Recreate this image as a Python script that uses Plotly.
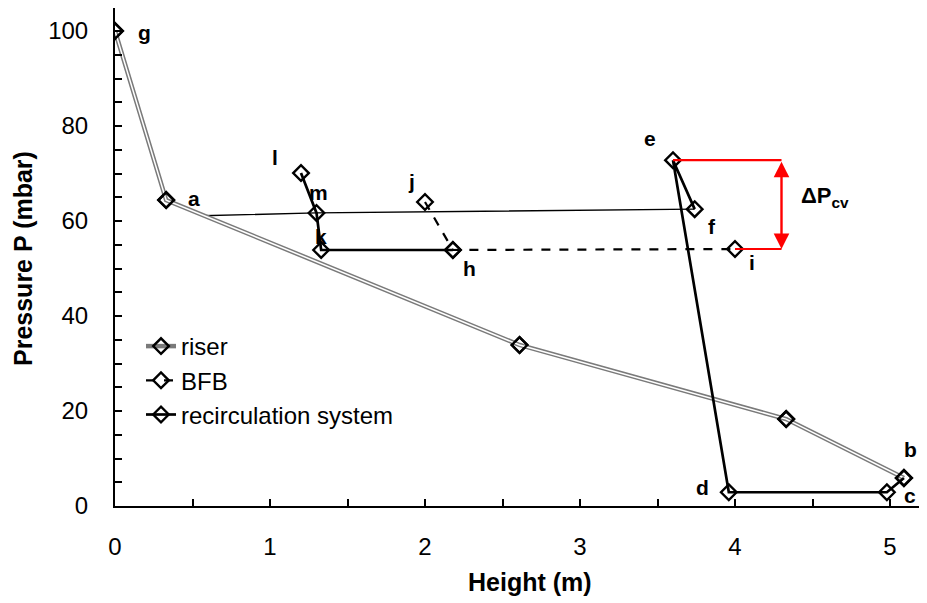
import plotly.graph_objects as go

FONT = "Arial, Liberation Sans, sans-serif"

# Riser: g, a, intermediate points, b
riser_x = [0.0, 0.33, 2.61, 4.33, 5.09]
riser_y = [100.0, 64.4, 33.9, 18.3, 5.9]

# BFB: j -> h -> i
bfb_x = [2.0, 2.18, 4.0]
bfb_y = [64.0, 53.9, 54.1]

# Recirculation system: b -> c -> d -> e -> f  and  l -> m -> k -> h
rec1_x = [5.09, 4.98, 3.96, 3.60, 3.74]
rec1_y = [5.9, 2.9, 2.9, 72.8, 62.5]
rec2_x = [1.20, 1.30, 1.33, 2.18]
rec2_y = [70.1, 61.7, 53.9, 53.9]

# Thin connecting line (riser -> m -> f)
conn_x = [0.56, 1.30, 3.74]
conn_y = [61.1, 61.7, 62.5]

# Point labels
lab_text = ["g", "a", "l", "m", "k", "j", "h", "e", "f", "i", "b", "c", "d"]
lab_x = [0.19, 0.51, 1.03, 1.31, 1.33, 1.91, 2.29, 3.45, 3.85, 4.11, 5.13, 5.13, 3.79]
lab_y = [99.6, 64.8, 73.3, 66.1, 56.8, 68.4, 50.1, 77.3, 58.9, 51.2, 12.0, 2.3, 4.0]

dp_arrow_x = 4.3

W, H = 927, 603
OFF = 8  # page body margin
ML, MR, MT, MB = 115 - OFF, 0, 0, 603 + OFF - 506
PW = W - ML - MR
PH = H - MT - MB
XPX = 155.0
YPX = 4.75

MK = dict(symbol="diamond-open", size=12, color="black", line=dict(width=2.4, color="black"))

fig = go.Figure()

fig.add_trace(go.Scatter(x=conn_x, y=conn_y, mode="lines",
                         line=dict(color="black", width=1.3), showlegend=False))

fig.add_trace(go.Scatter(x=riser_x, y=riser_y, mode="lines+markers", name="riser",
                         line=dict(color="#7a7a7a", width=4.5), marker=MK,
                         legendgroup="riser", showlegend=True))
fig.add_trace(go.Scatter(x=riser_x, y=riser_y, mode="lines+markers",
                         line=dict(color="white", width=1.5), marker=MK,
                         legendgroup="riser", showlegend=False))

fig.add_trace(go.Scatter(x=bfb_x, y=bfb_y, mode="lines+markers", name="BFB",
                         line=dict(color="black", width=2.2, dash="dash"), marker=MK))

fig.add_trace(go.Scatter(x=rec1_x, y=rec1_y, mode="lines+markers", name="recirculation system",
                         line=dict(color="black", width=2.7), marker=MK, legendgroup="rec"))
fig.add_trace(go.Scatter(x=rec2_x, y=rec2_y, mode="lines+markers",
                         line=dict(color="black", width=2.7), marker=MK,
                         legendgroup="rec", showlegend=False))

fig.add_trace(go.Scatter(x=[rec1_x[3], dp_arrow_x], y=[rec1_y[3], rec1_y[3]], mode="lines",
                         line=dict(color="red", width=2.2), showlegend=False))
fig.add_trace(go.Scatter(x=[bfb_x[2], dp_arrow_x], y=[bfb_y[2], bfb_y[2]], mode="lines",
                         line=dict(color="red", width=2.2), showlegend=False))

annotations = []
annotations.append(dict(x=dp_arrow_x, y=bfb_y[2], ax=dp_arrow_x, ay=rec1_y[3],
                        xref="x", yref="y", axref="x", ayref="y", text="",
                        showarrow=True, arrowhead=2, arrowside="end+start",
                        arrowsize=1.3, arrowwidth=2.4, arrowcolor="red",
                        startarrowhead=2, startarrowsize=1.3))
annotations.append(dict(x=4.58, y=65.1, xref="x", yref="y", showarrow=False,
                        xanchor="center", yanchor="middle",
                        text="<b>ΔP<sub>cv</sub></b>",
                        font=dict(family=FONT, size=22, color="black")))
for t, x, y in zip(lab_text, lab_x, lab_y):
    annotations.append(dict(x=x, y=y, xref="x", yref="y", text=f"<b>{t}</b>",
                            xanchor="center", yanchor="middle",
                            showarrow=False, font=dict(family=FONT, size=21, color="black")))


def pxx(p):
    return (p - OFF - ML) / PW


def pxy(p):
    return (H - MB - (p - OFF)) / PH


annotations.append(dict(x=pxx(530), y=pxy(582), xref="paper", yref="paper",
                        xanchor="center", yanchor="middle",
                        text="<b>Height (m)</b>", showarrow=False,
                        font=dict(family=FONT, size=25, color="black")))
annotations.append(dict(x=pxx(23), y=pxy(259), xref="paper", yref="paper",
                        xanchor="center", yanchor="middle",
                        text="<b>Pressure P (mbar)</b>", textangle=-90, showarrow=False,
                        font=dict(family=FONT, size=25, color="black")))

fig.update_layout(
    width=W, height=H,
    margin=dict(l=ML, r=MR, t=MT, b=MB, autoexpand=False),
    plot_bgcolor="white", paper_bgcolor="white",
    font=dict(family=FONT, size=24, color="black"),
    annotations=annotations,
    legend=dict(x=pxx(141), y=pxy(324), xanchor="left", yanchor="top",
                bgcolor="rgba(0,0,0,0)", font=dict(family=FONT, size=24, color="black"),
                itemwidth=30, tracegroupgap=0),
    xaxis=dict(range=[0, PW / XPX], dtick=1, tick0=0, showgrid=False, zeroline=False,
               showline=True, linecolor="black", linewidth=2, mirror=True,
               ticks="inside", ticklen=7, tickwidth=2, tickcolor="black",
               ticklabelstandoff=18,
               tickfont=dict(family=FONT, size=24, color="black"),
               minor=dict(dtick=0.5, ticks="inside", ticklen=7, tickwidth=2, tickcolor="black")),
    yaxis=dict(range=[0, PH / YPX], dtick=20, tick0=0, showgrid=False, zeroline=False,
               showline=True, linecolor="black", linewidth=2,
               ticks="inside", ticklen=7, tickwidth=2, tickcolor="black",
               ticklabelstandoff=20,
               tickfont=dict(family=FONT, size=24, color="black"),
               minor=dict(dtick=5, ticks="inside", ticklen=7, tickwidth=2, tickcolor="black")),
)

fig.write_html("out.html")
